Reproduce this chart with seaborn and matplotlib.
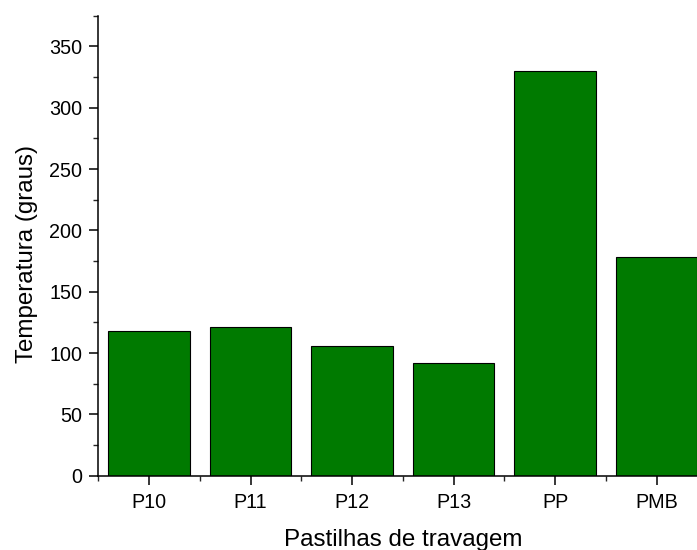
import numpy as np
import pandas as pd
import matplotlib.pyplot as plt
import matplotlib as mpl
import seaborn as sns
from matplotlib.ticker import MultipleLocator, FixedLocator

# data
pastilhas = ['P10', 'P11', 'P12', 'P13', 'PP', 'PMB']
temperatura = [118, 121, 106, 92, 330, 178]

sns.set_theme(style='ticks')
plt.rcParams['font.family'] = ['Liberation Sans', 'DejaVu Sans']
plt.rcParams.update({
    'axes.linewidth': 1.1,
    'xtick.major.width': 1.1,
    'ytick.major.width': 1.1,
    'xtick.minor.width': 1.0,
    'ytick.minor.width': 1.0,
    'xtick.major.size': 6.5,
    'ytick.major.size': 6.5,
    'xtick.minor.size': 3.5,
    'ytick.minor.size': 3.5,
    'xtick.direction': 'out',
    'ytick.direction': 'out',
})

df = pd.DataFrame({'pastilha': pastilhas, 'temp': temperatura})

fig = plt.figure(figsize=(6.97, 5.5), dpi=100)
# axes runs slightly past the right edge, like the cropped original
ax = fig.add_axes([98.3 / 697, 74.3 / 550, 609 / 697, 460 / 550])

sns.barplot(data=df, x='pastilha', y='temp', color='#007a00', saturation=1,
            width=0.8, edgecolor='black', linewidth=0.8, ax=ax)

ax.set_xlim(-0.5, len(pastilhas) - 0.5)
ax.set_ylim(0, 375)
ax.yaxis.set_major_locator(MultipleLocator(50))
ax.yaxis.set_minor_locator(MultipleLocator(25))
ax.xaxis.set_minor_locator(FixedLocator(np.arange(len(pastilhas) + 1) - 0.5))

ax.spines['top'].set_visible(False)
ax.spines['right'].set_visible(False)
for s in ['left', 'bottom']:
    ax.spines[s].set_color('black')
ax.tick_params(colors='black', labelsize=14.2)
ax.tick_params(axis='x', pad=6)
ax.tick_params(axis='y', pad=5)

ax.set_xlabel('Pastilhas de travagem', fontsize=17.4, color='black', labelpad=12)
ax.set_ylabel('Temperatura (graus)', fontsize=17.4, color='black', labelpad=8)
ax.yaxis.label.set_y(0.482)

fig.savefig('out.png', dpi=100)
